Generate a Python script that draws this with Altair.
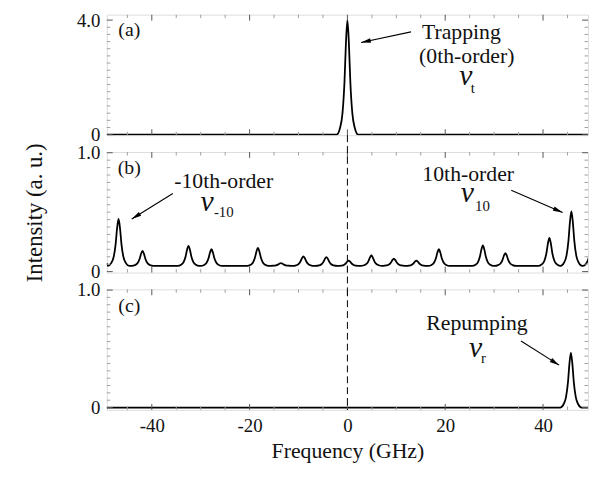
import math
import altair as alt
import pandas as pd

FONT = "Liberation Serif"
X_MIN, X_MAX = -49.2, 49.2
PLOT_W, PLOT_H, GAP = 487, 122, 17
MAJ_C, MIN_C = "#555555", "#a0a0a0"
MAJ_LEN, MIN_LEN = 6, 3.5

# ---- axis ticks ----
x_major = [-40, -20, 0, 20, 40]
x_minor = [-45, -35, -30, -25, -15, -10, -5, 5, 10, 15, 25, 30, 35, 45]
a_major = [0, 4.0]
a_minor = [0.25, 0.5, 0.75, 1.0, 1.25, 1.5, 1.75, 2.0, 2.25, 2.5, 2.75, 3.0, 3.25, 3.5, 3.75]
bc_major = [0, 1.0]
bc_minor = [0.0625, 0.125, 0.1875, 0.25, 0.3125, 0.375, 0.4375, 0.5, 0.5625, 0.625,
            0.6875, 0.75, 0.8125, 0.875, 0.9375]
a_ydom = [-0.02, 4.19]
b_ydom = [-0.008, 1.006]
c_ydom = [-0.02, 1.006]

# ---- peak line shape (offset in GHz, fraction of peak) ----
profile_offset = [-2.2, -1.5, -1.0, -0.6, -0.3, 0.0, 0.3, 0.6, 1.0, 1.5, 2.2]
profile_frac = [0.0, 0.06, 0.19, 0.46, 0.8, 1.0, 0.8, 0.46, 0.19, 0.06, 0.0]

# ---- (a) trapping ----
a_centers = [0.0]
a_heights = [4.0]
a_base = 0.0
a_ends_x = [-49.2, 49.2]
a_ends_y = [0.0, 0.0]

# ---- (b) comb ----
b_centers = [-46.8, -41.9, -32.5, -27.8, -18.3, -13.6, -9.0, -4.3, 0.26, 4.9,
             9.5, 14.1, 18.7, 27.7, 32.3, 41.3, 45.8, 50.4]
b_heights = [0.443, 0.174, 0.216, 0.188, 0.2, 0.072, 0.128, 0.122, 0.092, 0.136,
             0.109, 0.092, 0.188, 0.22, 0.155, 0.284, 0.506, 0.46]
b_base = 0.048
b_ends_x = [-49.2]
b_ends_y = [0.07]

# ---- (c) repumping ----
c_centers = [45.7]
c_heights = [0.465]
c_base = 0.0
c_ends_x = [-49.2, 49.2]
c_ends_y = [0.0, 0.0]

dash_x = [0.0]

# ---- annotations ----
a_txt = ["Trapping", "(0th-order)"]
a_txt_x = [23.3, 24.4]
a_txt_y = [3.33, 2.51]
a_nu = ["t", 24.2, 1.75, 25.2, 1.44]
a_arrow = [13.0, 3.59, 2.8, 3.22]
a_tag = ["(a)", -44.6, 3.43]

b_txt = ["-10th-order", "10th-order"]
b_txt_x = [-25.3, 24.7]
b_txt_y = [0.706, 0.761]
b_nu_sub = ["-10", "10"]
b_nu_x = [-28.7, 24.5]
b_nu_y = [0.506, 0.583]
b_sub_x = [-27.3, 26.1]
b_sub_y = [0.459, 0.514]
b_arrow_tx = [-35.7, 33.5]
b_arrow_ty = [0.657, 0.685]
b_arrow_hx = [-44.1, 44.0]
b_arrow_hy = [0.443, 0.498]
b_tag = ["(b)", -44.6, 0.821]

c_txt = ["Repumping"]
c_txt_x = [26.5]
c_txt_y = [0.661]
c_nu = ["r", 26.2, 0.431, 27.3, 0.376]
c_arrow = [35.5, 0.566, 43.3, 0.361]
c_tag = ["(c)", -44.6, 0.81]


def build_curve(centers, heights, base, ends_x, ends_y):
    xs = list(ends_x)
    ys = list(ends_y)
    for c, h in zip(centers, heights):
        for off, fr in zip(profile_offset, profile_frac):
            xs.append(c + off)
            ys.append(base + (h - base) * fr)
    return pd.DataFrame({"x": xs, "y": ys}).sort_values("x").reset_index(drop=True)


def panel(df, ydom, y_major, y_minor, texts, nus, arrows, tag, bottom=False,
          ytitle=False, rule_px=None):
    xs = alt.Scale(domain=[X_MIN, X_MAX], nice=False, zero=False)
    ys = alt.Scale(domain=ydom, nice=False, zero=False)

    yaxis = dict(orient="left", values=y_major, ticks=False, domain=False, grid=False,
                 labels=True,
                 labelExpr="datum.value == 0 ? '0' : format(datum.value, '.1f')",
                 labelFont=FONT, labelFontSize=19, labelColor="#111111", labelPadding=7,
                 minExtent=0, title=None)
    if ytitle:
        yaxis.update(title="Intensity (a. u.)", titleFont=FONT, titleFontSize=23,
                     titleFontWeight="normal", titleColor="#111111", titlePadding=30)
    if bottom:
        xaxis = alt.Axis(orient="bottom", values=x_major, ticks=False, domain=False,
                         grid=False, labelExpr="'' + datum.value", labelFont=FONT,
                         labelFontSize=19, labelColor="#111111", labelPadding=7,
                         minExtent=0, title="Frequency (GHz)", titleFont=FONT,
                         titleFontSize=22, titleFontWeight="normal",
                         titleColor="#111111", titlePadding=5)
    else:
        xaxis = None

    layers = []

    # inward tick marks on all four sides (tick values from the tick lists)
    def xticks(vals, length, color, top):
        yy = (0, length) if top else (PLOT_H - length, PLOT_H)
        return alt.Chart(pd.DataFrame({"v": vals})).mark_rule(
            color=color, strokeWidth=1).encode(
            x=alt.X("v:Q", scale=xs, axis=None), y=alt.value(yy[0]), y2=alt.value(yy[1]))

    def yticks(vals, length, color, left):
        xx = (0, length) if left else (PLOT_W - length, PLOT_W)
        return alt.Chart(pd.DataFrame({"v": vals})).mark_rule(
            color=color, strokeWidth=1).encode(
            y=alt.Y("v:Q", scale=ys, axis=None), x=alt.value(xx[0]), x2=alt.value(xx[1]))

    layers.append(
        alt.Chart(df).mark_line(color="black", strokeWidth=1.8, interpolate="monotone",
                                clip=True).encode(
            x=alt.X("x:Q", scale=xs, axis=xaxis),
            y=alt.Y("y:Q", scale=ys, axis=alt.Axis(**yaxis))))

    for side in (True, False):
        layers.append(xticks(x_minor, MIN_LEN, MIN_C, side))
        layers.append(xticks(x_major, MAJ_LEN, MAJ_C, side))
        layers.append(yticks(y_minor, MIN_LEN, MIN_C, side))
        layers.append(yticks(y_major, MAJ_LEN, MAJ_C, side))

    if rule_px is not None:
        layers.append(
            alt.Chart(pd.DataFrame({"x": dash_x})).mark_rule(
                color="black", strokeWidth=1, strokeDash=[7, 4]).encode(
                x=alt.X("x:Q", scale=xs, axis=None),
                y=alt.value(rule_px[0]), y2=alt.value(rule_px[1])))

    def text_layer(tdf, size, style="normal", align="center"):
        return alt.Chart(tdf).mark_text(font=FONT, fontSize=size, fontStyle=style,
                                        align=align, baseline="alphabetic",
                                        color="#111111").encode(
            x=alt.X("x:Q", scale=xs, axis=None), y=alt.Y("y:Q", scale=ys, axis=None),
            text="t:N")

    n_nu = len(nus["sub"])
    layers.append(text_layer(texts, 22))
    layers.append(text_layer(pd.DataFrame({"t": ["v"] * n_nu, "x": nus["vx"], "y": nus["vy"]}), 30, "italic"))
    layers.append(text_layer(pd.DataFrame({"t": nus["sub"], "x": nus["sx"], "y": nus["sy"]}), 15, "normal", "left"))
    layers.append(text_layer(tag, 20))

    # arrows
    sx = PLOT_W / (X_MAX - X_MIN)
    sy = PLOT_H / (ydom[1] - ydom[0])
    angs = []
    for tx, ty, hx, hy in zip(arrows["tx"], arrows["ty"], arrows["hx"], arrows["hy"]):
        dxp = (hx - tx) * sx
        dyp = -(hy - ty) * sy
        angs.append(math.degrees(math.atan2(dxp, -dyp)) % 360)
    adf = arrows.assign(ang=angs)
    layers.append(alt.Chart(adf).mark_rule(color="black", strokeWidth=1.1).encode(
        x=alt.X("tx:Q", scale=xs, axis=None), y=alt.Y("ty:Q", scale=ys, axis=None),
        x2="hx:Q", y2="hy:Q"))
    layers.append(alt.Chart(adf).mark_point(
        shape="M0,0L-0.38,1.6L0.38,1.6Z", filled=True, color="black", size=150,
        opacity=1, strokeWidth=0).encode(
        x=alt.X("hx:Q", scale=xs, axis=None), y=alt.Y("hy:Q", scale=ys, axis=None),
        angle=alt.Angle("ang:Q", scale=None)))

    return alt.layer(*layers).resolve_axis(x="independent", y="independent").properties(
        width=PLOT_W, height=PLOT_H)


df_a = build_curve(a_centers, a_heights, a_base, a_ends_x, a_ends_y)
df_b = build_curve(b_centers, b_heights, b_base, b_ends_x, b_ends_y)
df_c = build_curve(c_centers, c_heights, c_base, c_ends_x, c_ends_y)

pa = panel(df_a, a_ydom, a_major, a_minor,
           pd.DataFrame({"t": a_txt, "x": a_txt_x, "y": a_txt_y}),
           {"sub": [a_nu[0]], "vx": [a_nu[1]], "vy": [a_nu[2]], "sx": [a_nu[3]], "sy": [a_nu[4]]},
           pd.DataFrame({"tx": [a_arrow[0]], "ty": [a_arrow[1]], "hx": [a_arrow[2]], "hy": [a_arrow[3]]}),
           pd.DataFrame({"t": [a_tag[0]], "x": [a_tag[1]], "y": [a_tag[2]]}))
pb = panel(df_b, b_ydom, bc_major, bc_minor,
           pd.DataFrame({"t": b_txt, "x": b_txt_x, "y": b_txt_y}),
           {"sub": b_nu_sub, "vx": b_nu_x, "vy": b_nu_y, "sx": b_sub_x, "sy": b_sub_y},
           pd.DataFrame({"tx": b_arrow_tx, "ty": b_arrow_ty, "hx": b_arrow_hx, "hy": b_arrow_hy}),
           pd.DataFrame({"t": [b_tag[0]], "x": [b_tag[1]], "y": [b_tag[2]]}),
           ytitle=True, rule_px=(-GAP, PLOT_H + GAP))
pc = panel(df_c, c_ydom, bc_major, bc_minor,
           pd.DataFrame({"t": c_txt, "x": c_txt_x, "y": c_txt_y}),
           {"sub": [c_nu[0]], "vx": [c_nu[1]], "vy": [c_nu[2]], "sx": [c_nu[3]], "sy": [c_nu[4]]},
           pd.DataFrame({"tx": [c_arrow[0]], "ty": [c_arrow[1]], "hx": [c_arrow[2]], "hy": [c_arrow[3]]}),
           pd.DataFrame({"t": [c_tag[0]], "x": [c_tag[1]], "y": [c_tag[2]]}),
           bottom=True, rule_px=(0, PLOT_H))

chart = alt.vconcat(pa, pb, pc, spacing=GAP, bounds="flush").properties(
    padding={"left": 15, "top": 0, "right": 0, "bottom": 0}
).configure_view(stroke="#888888", strokeWidth=1).configure(font=FONT)

chart.save("out.html", embed_options={"renderer": "svg", "actions": False})
